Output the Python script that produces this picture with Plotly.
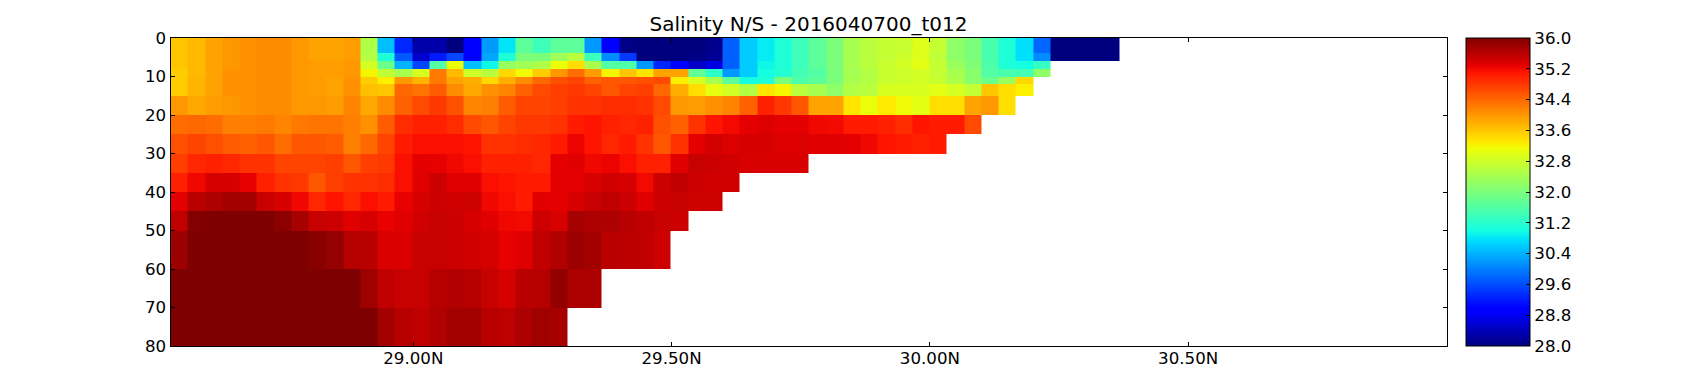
import plotly.graph_objects as go

FONT = "DejaVu Sans"
title = "Salinity N/S - 2016040700_t012"

lat_edges = [28.53, 28.5634, 28.5968, 28.6302, 28.6636, 28.697, 28.7304, 28.7638, 28.7972, 28.8306,
             28.864, 28.8974, 28.9308, 28.9642, 28.9976, 29.031, 29.0644, 29.0978, 29.1312, 29.1646,
             29.198, 29.2314, 29.2648, 29.2982, 29.3316, 29.365, 29.3984, 29.4318, 29.4652, 29.4986,
             29.532, 29.5654, 29.5988, 29.6322, 29.6656, 29.699, 29.7324, 29.7658, 29.7992, 29.8326,
             29.866, 29.8994, 29.9328, 29.9662, 29.9996, 30.033, 30.0664, 30.0998, 30.1332, 30.1666,
             30.2, 30.2334, 30.2668, 30.3002, 30.3336, 30.367]
depth_edges = [0, 4, 6, 8, 10, 12, 15, 20, 25, 30, 35, 40, 45, 50, 60, 70, 80]

d00 = [33.6,33.7,33.9,34.0,34.05,34.1,34.1,34.0,33.9,33.9,33.95,32.5,30.5,29.3,28.3,28.3,28.0,28.9,30.2,30.8,31.7,31.4,31.7,
       31.7,30.2,28.9,28.05,28,28,28,28,28.1,29.75,30.6,30.85,31.1,31.4,31.7,32.0,32.45,32.6,32.7,32.75,32.95,32.7,32.2,32.0,31.5,31.1,30.75,29.8,28,28,28,28]
d04 = [33.6,33.7,33.9,34.0,34.05,34.1,34.1,34.0,33.9,33.9,33.95,32.55,31.1,29.7,28.55,29.2,29.55,28.95,30.3,31.1,32.0,32.0,32.35,
       32.6,31.4,30.1,29.45,28,28,28,28.05,28.15,29.75,30.6,30.85,31.1,31.4,31.7,32.0,32.45,32.6,32.7,32.8,32.95,32.65,32.2,32.0,31.5,31.1,30.75,30.1,28,28,28,28]
d06 = [33.6,33.7,33.9,34.0,34.05,34.1,34.1,34.0,33.95,33.95,34.0,32.85,31.85,30.4,29.55,31.6,33.1,30.5,30.95,32.25,32.35,32.5,33.1,
       33.4,32.45,31.6,31.55,30.2,29.3,28.95,28.5,28.7,29.75,30.6,30.95,31.1,31.4,31.7,32.0,32.45,32.6,32.75,32.85,33.0,32.7,32.3,32.05,31.55,31.1,31.0,31.3]
d08 = [33.55,33.7,33.9,34.05,34.05,34.1,34.1,34.0,33.95,33.95,34.0,33.2,32.65,32.45,32.9,34.25,33.7,32.8,32.6,33.45,33.15,33.55,34.0,
       34.35,33.95,33.2,33.6,33.35,33.9,33.9,31.75,31.25,30.2,30.6,31.0,31.15,31.45,31.6,32.0,32.4,32.55,32.75,32.8,32.85,32.7,32.45,32.15,31.6,31.5,31.45,32.2]
d10 = [33.55,33.75,33.9,34.05,34.05,34.1,34.1,34.0,33.95,33.9,34.05,33.55,33.25,34.0,33.75,34.25,33.9,33.8,33.45,33.8,34.1,34.4,34.6,
       34.7,34.45,34.55,34.55,34.6,34.65,33.25,32.9,32.45,31.7,31.0,31.1,32.0,31.55,31.7,32.0,32.45,32.55,32.75,32.8,32.85,32.75,32.5,32.15,31.85,32.3,33.45]
d12 = [33.55,33.75,33.9,34.05,34.05,34.1,34.1,34.0,33.95,33.9,34.05,33.65,33.6,34.4,34.3,34.5,34.1,33.85,34.05,34.15,34.45,34.65,34.75,
       34.8,34.7,34.55,34.7,34.75,34.4,33.8,33.4,33.05,32.85,32.55,33.35,33.2,32.6,32.45,32.2,32.55,32.6,32.9,32.9,32.9,33.0,32.9,32.7,33.6,33.4,33.25]
d15 = [34.0,33.85,33.95,34.0,34.05,34.1,34.1,34.0,34.0,33.95,34.15,33.85,34.1,34.45,34.65,34.8,34.6,34.15,34.2,34.5,34.7,34.7,34.75,
       34.85,34.85,34.9,34.9,34.85,34.65,34.0,33.95,34.05,34.15,34.45,35.0,34.8,34.55,33.9,33.9,33.35,33.1,33.3,33.15,33.0,33.4,33.4,33.9,34.0,33.4]
d20 = [34.35,34.4,34.35,34.2,34.2,34.25,34.15,34.25,34.3,34.3,34.2,34.05,34.5,34.9,35.0,35.0,34.9,34.65,34.55,34.7,34.8,34.8,34.85,
       35.05,35.1,35.0,34.95,35.0,34.6,34.45,34.85,35.1,35.2,35.3,35.35,35.3,35.3,35.22,35.2,35.05,35.05,35.0,34.9,35.1,35.05,35.05,34.65]
d25 = [34.6,34.7,34.6,34.5,34.45,34.55,34.35,34.55,34.55,34.5,34.2,34.4,34.7,35.05,35.15,35.15,35.15,35.1,34.85,34.85,34.9,34.95,35.05,
       35.25,35.1,34.95,35.05,34.85,34.55,34.85,35.3,35.42,35.35,35.4,35.4,35.35,35.35,35.33,35.33,35.3,35.22,35.1,35.05,35.0,35.05]
d30 = [34.75,34.95,35.0,34.95,34.85,34.85,34.7,34.7,34.7,34.75,34.55,34.75,34.8,35.15,35.3,35.28,35.22,35.15,35.0,35.0,35.0,34.95,35.3,
       35.32,35.22,35.25,35.15,35.0,35.0,35.33,35.5,35.47,35.43,35.38,35.38,35.38,35.38]
d35 = [35.0,35.22,35.4,35.4,35.28,35.0,34.85,34.8,34.55,34.75,34.85,34.85,34.9,35.15,35.33,35.47,35.33,35.33,35.15,35.1,35.05,35.05,35.3,
       35.3,35.38,35.43,35.4,35.2,35.47,35.55,35.47,35.43,35.43]
d40 = [35.3,35.6,35.68,35.75,35.75,35.5,35.4,35.22,34.95,35.1,34.95,35.15,35.05,35.27,35.4,35.47,35.43,35.45,35.22,35.15,35.05,35.33,35.3,
       35.4,35.5,35.55,35.47,35.33,35.47,35.5,35.45,35.45]
d45 = [35.55,35.98,36,36,36,36,35.9,35.72,35.5,35.47,35.33,35.4,35.27,35.33,35.43,35.5,35.47,35.4,35.33,35.22,35.2,35.47,35.38,
       35.72,35.68,35.68,35.6,35.55,35.5,35.47]
d50 = [35.8,36,36,36,36,36,36,36,35.93,35.85,35.62,35.6,35.37,35.37,35.5,35.5,35.47,35.43,35.42,35.27,35.33,35.55,35.66,
       35.8,35.75,35.6,35.58,35.55,35.47]
d60 = [36,36,36,36,36,36,36,36,36,36,36,35.78,35.55,35.5,35.5,35.62,35.65,35.62,35.5,35.4,35.6,35.62,35.86,
       35.68,35.68]
d70 = [36,36,36,36,36,36,36,36,36,36,36,36,35.75,35.62,35.55,35.65,35.75,35.75,35.6,35.57,35.68,35.78,35.72]

rows = [d00, d04, d06, d08, d10, d12, d15, d20, d25, d30, d35, d40, d45, d50, d60, d70]
n_cols = len(lat_edges) - 1
z = [r + [None] * (n_cols - len(r)) for r in rows]

x_tick_vals = [29.0, 29.5, 30.0, 30.5]
x_tick_text = ["29.00N", "29.50N", "30.00N", "30.50N"]
y_tick_vals = [0, 10, 20, 30, 40, 50, 60, 70, 80]
cbar_ticks = [28.0, 28.8, 29.6, 30.4, 31.2, 32.0, 32.8, 33.6, 34.4, 35.2, 36.0]
cbar_text = ["28.0", "28.8", "29.6", "30.4", "31.2", "32.0", "32.8", "33.6", "34.4", "35.2", "36.0"]

# matplotlib's classic jet
jet = [[0, "rgb(0,0,127)"], [0.11, "rgb(0,0,255)"], [0.125, "rgb(0,0,255)"],
       [0.34, "rgb(0,219,255)"], [0.35, "rgb(0,229,247)"], [0.375, "rgb(20,255,226)"],
       [0.64, "rgb(238,255,8)"], [0.65, "rgb(246,245,0)"], [0.66, "rgb(255,236,0)"],
       [0.89, "rgb(255,18,0)"], [0.91, "rgb(231,0,0)"], [1, "rgb(127,0,0)"]]

W, H = 1700, 384
L, R, T, B = 170.5, 1446.5, 38, 346

fig = go.Figure(go.Heatmap(
    x=lat_edges, y=depth_edges, z=z, zmin=28, zmax=36, colorscale=jet,
    hoverongaps=False,
    colorbar=dict(
        x=1466 / W, xanchor="left", xpad=0, ypad=0,
        y=(H - B) / H, yanchor="bottom", len=(B - T) / H, lenmode="fraction",
        thickness=64, thicknessmode="pixels",
        tickmode="array", tickvals=cbar_ticks, ticktext=cbar_text,
        ticks="inside", ticklen=4, tickwidth=1, tickcolor="black",
        outlinecolor="black", outlinewidth=1,
        tickfont=dict(family=FONT, size=16.67, color="black"),
    ),
))
axis_style = dict(showline=True, linecolor="black", linewidth=1, mirror="allticks",
                  ticks="inside", ticklen=4, tickwidth=1, tickcolor="black",
                  showgrid=False, zeroline=False,
                  tickfont=dict(family=FONT, size=16.67, color="black"))
fig.update_xaxes(range=[28.53, 31.0], domain=[L / W, R / W], ticklabelstandoff=-3,
                 tickmode="array", tickvals=x_tick_vals, ticktext=x_tick_text, **axis_style)
fig.update_yaxes(range=[80, 0], domain=[1 - B / H, 1 - T / H],
                 tickmode="array", tickvals=y_tick_vals, **axis_style)
fig.update_layout(
    width=W, height=H, margin=dict(l=0, r=0, t=0, b=0, autoexpand=False),
    paper_bgcolor="white", plot_bgcolor="white",
    title=dict(text=title, x=(L + R) / 2 / W, xanchor="center", y=1 - 24 / H, yanchor="middle",
               font=dict(family=FONT, size=20, color="black")),
)
fig.write_html("out.html", config=dict(displayModeBar=False),
               post_script="document.body.style.margin='0';")
